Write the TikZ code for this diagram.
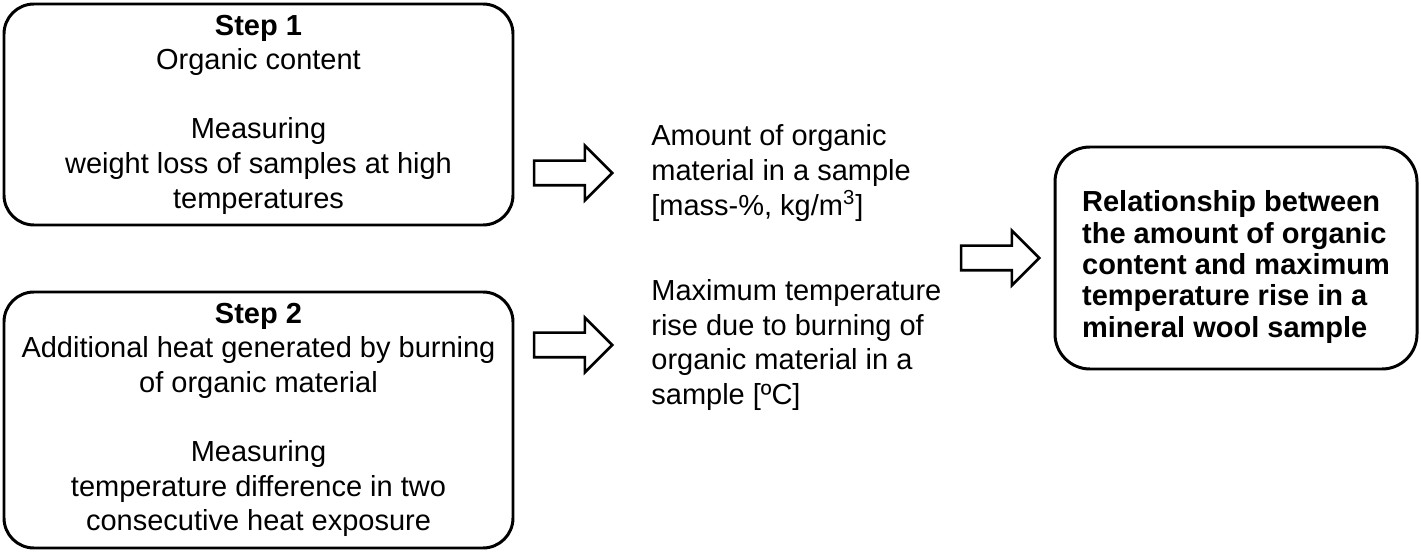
\documentclass[tikz,border=0pt]{standalone}
\usepackage{fontspec}
\setmainfont{Liberation Sans}
\usetikzlibrary{positioning,shapes.arrows}

\tikzset{
  stepbox/.style={draw, line width=1.7pt, rounded corners=0.6cm, align=center, minimum width=10.18cm, font=\fontsize{16.5}{19.7}\selectfont},
  resultbox/.style={draw, line width=1.7pt, rounded corners=0.7cm, align=left, minimum width=7.24cm, minimum height=4.44cm, font=\bfseries\fontsize{16.5}{17.8}\selectfont},
  outtext/.style={align=left, inner sep=0pt, font=\fontsize{16.5}{19.7}\selectfont},
  blockarrow/.style={draw, single arrow, line width=1.5pt, minimum height=1.56cm, minimum width=1.04cm, single arrow head extend=0.3cm, single arrow tip angle=90, inner sep=0.22cm}
}

\begin{document}
\begin{tikzpicture}
  \useasboundingbox (0,0) rectangle (28.42,-11.06);

  \node[stepbox, minimum height=4.42cm] (step1) at (5.17,-2.29) {\textbf{Step 1}\\Organic content\\[19.7pt]Measuring\\weight loss of samples at high\\temperatures};
  \node[stepbox, minimum height=5.12cm, on grid, below=6.11cm of step1] (step2) {\textbf{Step 2}\\Additional heat generated by burning\\of organic material\\[19.7pt]Measuring\\temperature difference in two\\consecutive heat exposure};

  \node[blockarrow] (arrA) at (11.34,-3.46) {};
  \node[blockarrow] (arrB) at (11.34,-6.90) {};

  \node[outtext, right=0.74cm of arrA] (amount) {Amount of organic\\material in a sample\\{[}mass-\%, kg/m\textsuperscript{3}{]}};
  \node[outtext, right=0.74cm of arrB] (temprise) {Maximum temperature\\rise due to burning of\\organic material in a\\sample {[}ºC{]}};

  \node[blockarrow] (arrC) at (19.88,-5.16) {};
  \node[resultbox] (result) at (24.72,-5.16) {\rule{0pt}{0.78cm}Relationship between\\the amount of organic\\content and maximum\\temperature rise in a\\mineral wool sample};
\end{tikzpicture}
\end{document}
